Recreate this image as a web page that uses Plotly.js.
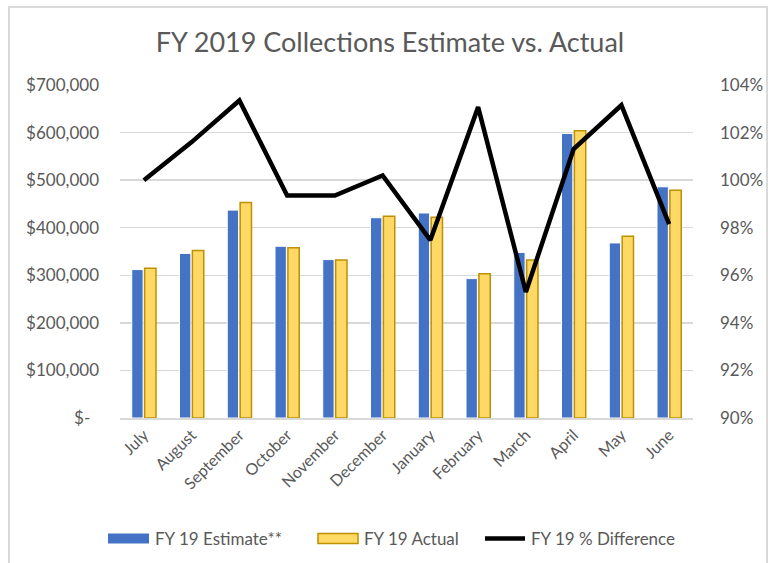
<!DOCTYPE html>
<html>
<head>
<meta charset="utf-8">
<script src="https://cdn.plot.ly/plotly-3.0.1.min.js"></script>
<style>
  html, body { margin: 0; padding: 0; background: #ffffff; }
  #wrap { position: relative; width: 780px; height: 563px; overflow: hidden; }
  #chart { position: absolute; left: 0; top: 0; width: 780px; height: 563px; }
  #frame { position: absolute; left: 8px; top: 6px; width: 760px; height: 600px;
           border: 2px solid #d9d9d9; box-sizing: border-box; pointer-events: none; }
</style>
</head>
<body>
<div id="wrap">
  <div id="chart"></div>
  <div id="frame"></div>
</div>
<script>
const months = ["July","August","September","October","November","December",
                "January","February","March","April","May","June"];
const estimate = [312000, 346000, 437000, 361000, 333000, 421000,
                  431000, 293000, 348000, 598000, 368000, 486000];
const actual   = [315000, 352000, 453000, 358000, 332000, 424000,
                  422000, 303000, 332000, 604000, 382000, 479000];
const pctDiff  = [1.000, 1.016, 1.0335, 0.9935, 0.9935, 1.002,
                  0.9748, 1.0307, 0.953, 1.0131, 1.0315, 0.9815];
const leftTickVals = [0, 100000, 200000, 300000, 400000, 500000, 600000, 700000];
const leftTickText = ["$-\u00a0\u00a0", "$100,000", "$200,000", "$300,000", "$400,000",
                      "$500,000", "$600,000", "$700,000"];
const seriesNames = ["FY 19 Estimate**", "FY 19 Actual", "FY 19 % Difference"];

const FONT = "Lato, 'Open Sans', sans-serif";
const GREY = "#595959";
const BLUE = "#4472C4", YELLOW = "#FFD966", GOLD = "#BF9000";

// plot-area geometry (pixels) used to place the hand-drawn legend
const M = { l: 120, r: 87, t: 85, b: 145 };
const W = 780, H = 563;
const PW = W - M.l - M.r, PH = H - M.t - M.b;
const px = v => (v - M.l) / PW;
const py = v => (H - M.b - v) / PH;

const traces = [
  { type: "bar", name: seriesNames[0], x: months, y: estimate,
    marker: { color: BLUE, line: { color: "#ffffff", width: 1 } } },
  { type: "bar", name: seriesNames[1], x: months, y: actual,
    marker: { color: YELLOW, line: { color: GOLD, width: 1.5 } } },
  { type: "scatter", mode: "lines", name: seriesNames[2], x: months, y: pctDiff,
    yaxis: "y2", line: { color: "#000000", width: 4.5 } }
];

const legY = 538.5;
const shapes = [
  { type: "rect", xref: "paper", yref: "paper", x0: px(108), x1: px(149),
    y0: py(543.5), y1: py(533.5), fillcolor: BLUE, line: { width: 0 } },
  { type: "rect", xref: "paper", yref: "paper", x0: px(318), x1: px(358),
    y0: py(543.5), y1: py(533.5), fillcolor: YELLOW, line: { color: GOLD, width: 1.5 } },
  { type: "line", xref: "paper", yref: "paper", x0: px(485), x1: px(525),
    y0: py(legY), y1: py(legY), line: { color: "#000000", width: 4.5 } }
];
const legX = [153, 362, 529];
const annotations = seriesNames.map((n, i) => ({
  text: n, xref: "paper", yref: "paper", x: px(legX[i]), y: py(legY),
  xanchor: "left", yanchor: "middle", showarrow: false,
  font: { family: FONT, size: 17, color: GREY }
}));

const layout = {
  width: W, height: H,
  margin: M,
  paper_bgcolor: "#ffffff", plot_bgcolor: "#ffffff",
  font: { family: FONT, color: GREY, size: 17 },
  title: { text: "FY 2019 Collections Estimate vs. Actual",
           font: { family: FONT, size: 27, color: GREY },
           x: 0.5, xanchor: "center", y: 0.925, yanchor: "middle" },
  barmode: "group", bargap: 0.46, bargroupgap: 0.12,
  showlegend: false,
  shapes: shapes,
  annotations: annotations,
  xaxis: { type: "category", tickangle: -45, showgrid: false,
           showline: true, linecolor: "#d9d9d9", linewidth: 1.5,
           tickfont: { family: FONT, size: 16, color: GREY }, ticks: "" },
  yaxis: { range: [0, 700000], tickvals: leftTickVals, ticktext: leftTickText,
           showgrid: true, gridcolor: "#d9d9d9", gridwidth: 1.5, zeroline: false,
           tickfont: { family: FONT, size: 17, color: GREY }, ticks: "",
           ticklabelstandoff: 20 },
  yaxis2: { overlaying: "y", side: "right", range: [0.90, 1.04], dtick: 0.02,
            tick0: 0.90, tickformat: ".0%", showgrid: false, zeroline: false,
            tickfont: { family: FONT, size: 17, color: GREY }, ticks: "",
            ticklabelstandoff: 26 }
};

Plotly.newPlot("chart", traces, layout, { displayModeBar: false, staticPlot: true });
</script>
</body>
</html>
